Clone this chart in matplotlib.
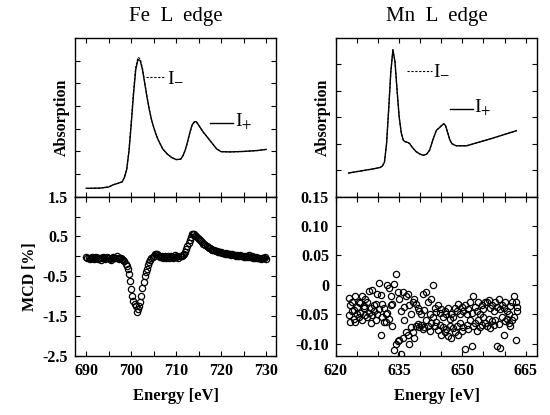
import numpy as np
import matplotlib; matplotlib.use("Agg"); import matplotlib.pyplot as plt

plt.rcParams['font.family'] = ['Liberation Serif', 'DejaVu Serif']
plt.rcParams['mathtext.fontset'] = 'stix'

# ---- Fe L edge absorption (arb. units) ----
fe_e = [690, 693, 695, 696, 697, 698, 698.5, 699, 699.5, 700, 700.5, 701, 701.5, 702,
        702.5, 703, 703.5, 704, 704.5, 705, 705.5, 706, 707, 708, 709, 710, 711, 711.5,
        712, 712.5, 713, 713.5, 714, 714.5, 715, 715.5, 716, 717, 718, 719, 720, 722,
        725, 728, 730]
fe_iplus = [0.36, 0.37, 0.42, 0.52, 0.58, 0.65, 0.85, 1.2, 2.0, 3.2, 4.5, 5.6, 6.05, 6.0,
            5.6, 5.0, 4.4, 3.85, 3.4, 3.05, 2.75, 2.5, 2.1, 1.88, 1.72, 1.63, 1.65, 1.8,
            2.05, 2.4, 2.8, 3.15, 3.3, 3.3, 3.15, 3.0, 2.85, 2.6, 2.35, 2.1, 1.98, 1.97,
            1.99, 2.03, 2.08]
fe_iminus = [0.36, 0.37, 0.42, 0.52, 0.58, 0.65, 0.86, 1.22, 2.05, 3.3, 4.62, 5.72, 6.15, 6.08,
             5.66, 5.04, 4.42, 3.86, 3.4, 3.05, 2.75, 2.5, 2.1, 1.88, 1.72, 1.63, 1.65, 1.8,
             2.04, 2.38, 2.77, 3.12, 3.27, 3.28, 3.14, 2.99, 2.84, 2.6, 2.35, 2.1, 1.98, 1.97,
             1.99, 2.03, 2.08]

# ---- Mn L edge absorption (arb. units) ----
mn_e = [623, 626, 629, 630.5, 631, 631.5, 632, 632.5, 633, 633.5, 634, 634.5, 635, 635.5,
        636, 636.5, 637, 637.5, 638, 639, 640, 640.7, 641.5, 642.2, 643, 643.8, 644.5, 645,
        645.6, 646, 646.5, 647, 647.5, 648.5, 651, 654, 657, 660, 662.8]
mn_iplus = [0.89, 0.97, 1.05, 1.1, 1.15, 1.3, 2.0, 3.3, 4.7, 5.55, 5.1, 4.0, 3.0, 2.4,
            2.12, 2.07, 2.05, 2.0, 1.88, 1.7, 1.6, 1.56, 1.6, 1.75, 2.15, 2.5, 2.6, 2.68,
            2.75, 2.68, 2.42, 2.15, 2.0, 1.92, 1.92, 2.06, 2.2, 2.35, 2.49]
mn_iminus = [0.89, 0.97, 1.05, 1.1, 1.15, 1.3, 2.0, 3.3, 4.7, 5.56, 5.1, 4.0, 3.0, 2.4,
             2.12, 2.07, 2.05, 2.0, 1.88, 1.7, 1.6, 1.56, 1.6, 1.75, 2.15, 2.5, 2.6, 2.68,
             2.76, 2.68, 2.42, 2.15, 2.0, 1.92, 1.92, 2.06, 2.2, 2.35, 2.49]

# ---- Fe MCD [%], measured every 0.25 eV from 690 eV ----
fe_mcd = [-0.02, -0.05, -0.03, -0.06, -0.04, -0.01, -0.05, -0.07, -0.03, -0.02, -0.06, -0.04,
          -0.03, -0.08, -0.05, -0.02, -0.04, -0.06, -0.01, -0.05, -0.03, -0.07, -0.10, -0.04,
          -0.02, -0.05, -0.03, 0.00, -0.04, -0.06, -0.03, -0.05,
          -0.06, -0.08, -0.12, -0.18, -0.25, -0.32, -0.45, -0.62, -0.82, -1.00, -1.12, -1.20,
          -1.25, -1.38, -1.32, -1.24, -1.15, -0.98, -0.80, -0.65, -0.50, -0.40, -0.32, -0.22,
          -0.15, -0.10, -0.05, -0.01, 0.02, 0.05, 0.07, 0.06,
          0.03, 0.01, -0.02, 0.00, -0.03, -0.01, 0.02, -0.04, -0.02, 0.00, -0.03, 0.01,
          -0.02, -0.05, -0.01, 0.03, -0.02, 0.00, -0.04, 0.02, 0.00,
          0.00, 0.03, 0.07, 0.12, 0.18, 0.25, 0.33, 0.42, 0.49, 0.55, 0.57, 0.55,
          0.52, 0.50, 0.46, 0.44, 0.41, 0.38, 0.35, 0.32,
          0.30, 0.28, 0.26, 0.24, 0.22, 0.20, 0.19, 0.17, 0.16, 0.15, 0.13, 0.13,
          0.12, 0.11, 0.10, 0.10, 0.08, 0.09, 0.07, 0.08, 0.06, 0.07, 0.05, 0.06,
          0.04, 0.05, 0.03, 0.04, 0.02, 0.04, 0.02, 0.01, 0.03, 0.00, 0.02, -0.01,
          0.01, -0.02, 0.00, -0.01, 0.03, -0.02, 0.00, -0.03, -0.01, -0.04, -0.02, -0.05,
          -0.03, -0.04, -0.06, -0.03, -0.05, -0.04, -0.02, -0.06]
fe_mcd_e = 690 + 0.25 * np.arange(len(fe_mcd))

# ---- Mn MCD [%], two sweeps every 0.4 eV from 623 eV ----
mn_mcd_a = [-0.023, -0.035, -0.029, -0.043, -0.020, -0.038, -0.029, -0.031, -0.020, -0.036, -0.025,
            -0.030, -0.010, -0.040, -0.009, -0.035, -0.032, -0.015, 0.003, -0.018, -0.032,
            -0.040, -0.050, -0.001, -0.006, -0.020, -0.032, 0.002, 0.018, -0.012, -0.025,
            -0.045, -0.012, -0.038, -0.020, -0.015, -0.035, -0.049, -0.030, -0.025, -0.032,
            -0.040, -0.045, -0.050, -0.015, -0.043, -0.012, -0.030, -0.050, -0.025, 0.000,
            -0.040, -0.046, -0.035, -0.048, -0.042, -0.055, -0.045, -0.050, -0.040, -0.058,
            -0.049, -0.055, -0.040, -0.045, -0.032, -0.050, -0.038, -0.045, -0.035, -0.050,
            -0.042, -0.030, -0.048, -0.020, -0.038, -0.045, -0.030, -0.050, -0.035, -0.042,
            -0.030, -0.029, -0.026, -0.040, -0.035, -0.045, -0.030, -0.038, -0.025, -0.042,
            -0.035, -0.040, -0.030, -0.045, -0.050, -0.036, -0.030, -0.020, -0.029, -0.038]
mn_mcd_b = [-0.052, -0.063, -0.045, -0.058, -0.063, -0.050, -0.055, -0.048, -0.060, -0.040, -0.052,
            -0.055, -0.048, -0.065, -0.052, -0.045, -0.060, -0.050, -0.042, -0.086, -0.055,
            -0.063, -0.063, -0.048, -0.058, -0.035, -0.070, -0.111, -0.100, -0.095, -0.094,
            -0.117, -0.090, -0.060, -0.080, -0.085, -0.100, -0.072, -0.080, -0.091, -0.070,
            -0.066, -0.072, -0.068, -0.075, -0.072, -0.060, -0.070, -0.078, -0.065, -0.055,
            -0.070, -0.063, -0.077, -0.068, -0.085, -0.072, -0.080, -0.075, -0.088, -0.070,
            -0.091, -0.074, -0.080, -0.070, -0.085, -0.065, -0.078, -0.072, -0.110, -0.068,
            -0.075, -0.060, -0.105, -0.070, -0.065, -0.078, -0.060, -0.072, -0.068, -0.055,
            -0.065, -0.070, -0.058, -0.074, -0.062, -0.068, -0.060, -0.105, -0.066, -0.108,
            -0.055, -0.086, -0.062, -0.058, -0.065, -0.070, -0.060, -0.055, -0.094, -0.045]
mn_mcd_e = 623 + 0.4 * np.arange(len(mn_mcd_a))

fig = plt.figure(figsize=(5.5, 4.15), dpi=100)
W = 0.3655
axFa = fig.add_axes([0.1364, 0.5265, W, 0.3819])
axFm = fig.add_axes([0.1364, 0.1410, W, 0.3855])
axMa = fig.add_axes([0.6109, 0.5265, W, 0.3819])
axMm = fig.add_axes([0.6109, 0.1410, W, 0.3855])

for a in (axFa, axFm, axMa, axMm):
    a.tick_params(which='both', direction='in', top=True, right=True, length=3.5, width=0.8,
                  labelsize=11.5, pad=5)
    for s in a.spines.values():
        s.set_linewidth(1.0)

# Fe absorption
axFa.plot(fe_e, fe_iplus, '-', color='k', lw=1.0)
axFa.plot(fe_e, fe_iminus, '--', color='k', lw=0.8, dashes=(2, 1.5))
axFa.set_xlim(687.5, 732.2); axFa.set_ylim(0, 7)
axFa.set_xticks(np.arange(690, 731, 5)); axFa.set_yticks(np.arange(1, 7))
axFa.tick_params(labelbottom=False, labelleft=False)
axFa.set_ylabel('Absorption', fontsize=11.5, fontweight='bold', labelpad=4)
axFa.set_title('Fe  L  edge', fontsize=15, pad=12)
axFa.plot([703.2, 707.6], [5.27, 5.27], '--', color='k', lw=0.8, dashes=(2, 1.5))
axFa.text(708.0, 5.27, r'I$_{-}$', fontsize=14, va='center')
axFa.plot([717.5, 722.6], [3.26, 3.26], '-', color='k', lw=1.0)
axFa.text(723.0, 3.26, r'I$_{+}$', fontsize=14, va='center')

# Fe MCD
axFm.plot(fe_mcd_e, fe_mcd, 'o', ms=4.5, mfc='none', mec='k', mew=0.9)
axFm.set_xlim(687.5, 732.2); axFm.set_ylim(-2.5, 1.5)
axFm.set_xticks(np.arange(690, 731, 10)); axFm.set_xticks(np.arange(690, 731, 5), minor=True)
axFm.set_yticks([-2.5, -1.5, -0.5, 0.5, 1.5]); axFm.set_yticks(np.arange(-2.5, 1.6, 0.5), minor=True)
axFm.set_yticklabels(['-2.5', '-1.5', '-0.5', '0.5', '1.5'])
axFm.set_xlabel('Energy [eV]', fontsize=12, fontweight='bold', labelpad=6)
axFm.set_ylabel('MCD [%]', fontsize=11.5, fontweight='bold', labelpad=3)

# Mn absorption
axMa.plot(mn_e, mn_iplus, '-', color='k', lw=1.0)
axMa.plot(mn_e, mn_iminus, '--', color='k', lw=0.8, dashes=(2, 1.5))
axMa.set_xlim(620, 667.7); axMa.set_ylim(0, 6)
axMa.set_xticks(np.arange(620, 666, 5)); axMa.set_yticks(np.arange(1, 6))
axMa.tick_params(labelbottom=False, labelleft=False)
axMa.set_ylabel('Absorption', fontsize=11.5, fontweight='bold', labelpad=4)
axMa.set_title('Mn  L  edge', fontsize=15, pad=12)
axMa.plot([636.8, 642.7], [4.77, 4.77], '--', color='k', lw=0.8, dashes=(2, 1.5))
axMa.text(643.1, 4.77, r'I$_{-}$', fontsize=14, va='center')
axMa.plot([647.0, 652.4], [3.32, 3.32], '-', color='k', lw=1.0)
axMa.text(652.8, 3.32, r'I$_{+}$', fontsize=14, va='center')

# Mn MCD
axMm.plot(mn_mcd_e, mn_mcd_a, 'o', ms=4.5, mfc='none', mec='k', mew=0.9)
axMm.plot(mn_mcd_e, mn_mcd_b, 'o', ms=4.5, mfc='none', mec='k', mew=0.9)
axMm.set_xlim(620, 667.7); axMm.set_ylim(-0.122, 0.15)
axMm.set_xticks([620, 635, 650, 665]); axMm.set_xticks(np.arange(620, 666, 5), minor=True)
axMm.set_yticks([-0.10, -0.05, 0, 0.05, 0.10, 0.15])
axMm.set_yticklabels(['-0.10', '-0.05', '0', '0.05', '0.10', '0.15'])
axMm.set_xlabel('Energy [eV]', fontsize=12, fontweight='bold', labelpad=6)

for a in (axFm, axMm):
    for t in a.get_xticklabels() + a.get_yticklabels():
        t.set_fontweight('bold')

fig.savefig('out.png', dpi=100)
